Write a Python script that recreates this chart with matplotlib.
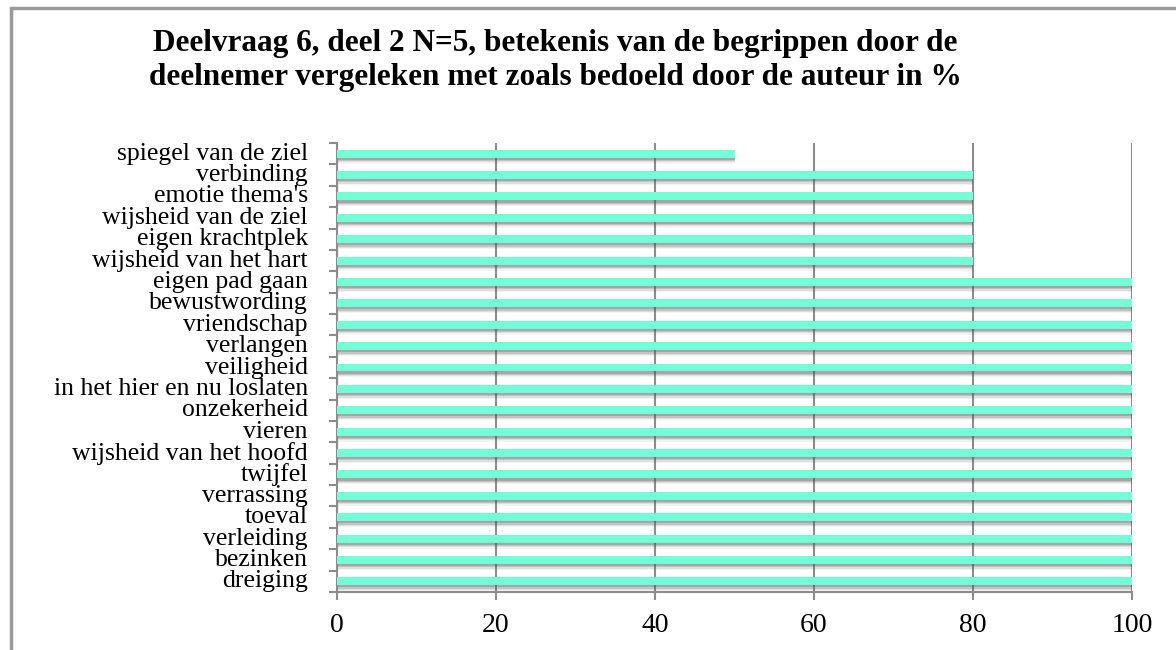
import matplotlib.pyplot as plt
from matplotlib.patches import Rectangle
import numpy as np

# categories top to bottom, values in %
categories = [
    "spiegel van de ziel", "verbinding", "emotie thema's", "wijsheid van de ziel",
    "eigen krachtplek", "wijsheid van het hart", "eigen pad gaan", "bewustwording",
    "vriendschap", "verlangen", "veiligheid", "in het hier en nu loslaten",
    "onzekerheid", "vieren", "wijsheid van het hoofd", "twijfel", "verrassing",
    "toeval", "verleiding", "bezinken", "dreiging",
]
values = [50, 80, 80, 80, 80, 80, 100, 100, 100, 100, 100, 100,
          100, 100, 100, 100, 100, 100, 100, 100, 100]
xticks = [0, 20, 40, 60, 80, 100]

title = ("Deelvraag 6, deel 2 N=5, betekenis van de begrippen door de\n"
         "deelnemer vergeleken met zoals bedoeld door de auteur in %")

plt.rcParams['font.family'] = ['Liberation Serif', 'DejaVu Serif']

fig = plt.figure(figsize=(11.76, 6.5), dpi=100)
ax = fig.add_axes([0.2866, 0.0892, 0.9626 - 0.2866, 0.78 - 0.0892])

# figure frame (only top and left edges fall inside the image)
fig.patches.append(Rectangle((10.5 / 1176, -0.2), 1.3, 1.2 - 7.5 / 650,
                             transform=fig.transFigure, fill=False,
                             edgecolor='#9a9a9a', linewidth=2.5))

n = len(categories)
y = np.arange(n)[::-1]
h = 0.37

# soft shadow under the bars
for off, a in [(0.10, 0.28), (0.16, 0.2), (0.22, 0.13), (0.28, 0.07)]:
    ax.barh(y - off, values, height=h, color='#5a5a5a', alpha=a,
            linewidth=0, zorder=2)
ax.barh(y, values, height=h, color='#74FED6', linewidth=0, zorder=3)

ax.set_xlim(0, 100)
ax.set_ylim(-0.5, n - 0.5)
ax.set_xticks(xticks)
ax.set_xticklabels([str(t) for t in xticks], fontsize=20)
ax.set_yticks(y)
ax.set_yticklabels(categories, fontsize=18.5, linespacing=1.0)
ax.set_yticks(np.arange(n + 1) - 0.5, minor=True)
ax.tick_params(axis='y', which='major', length=0, pad=21)
ax.tick_params(axis='y', which='minor', length=6, color='#8c8c8c', width=1.5)
ax.tick_params(axis='x', length=6, color='#8c8c8c', width=1.5, pad=9)
for lab in ax.get_yticklabels():
    lab.set_va('center')

ax.grid(axis='x', color='#8c8c8c', linewidth=1.5, zorder=1)
ax.set_axisbelow(True)
for s in ['top', 'right']:
    ax.spines[s].set_visible(False)
for s in ['left', 'bottom']:
    ax.spines[s].set_color('#8c8c8c')
    ax.spines[s].set_linewidth(1.5)

fig.text(0.472, 0.907, title, ha='center', va='center', fontsize=22.5,
         fontweight='bold', linespacing=1.25)

fig.savefig('out.png', dpi=100)
